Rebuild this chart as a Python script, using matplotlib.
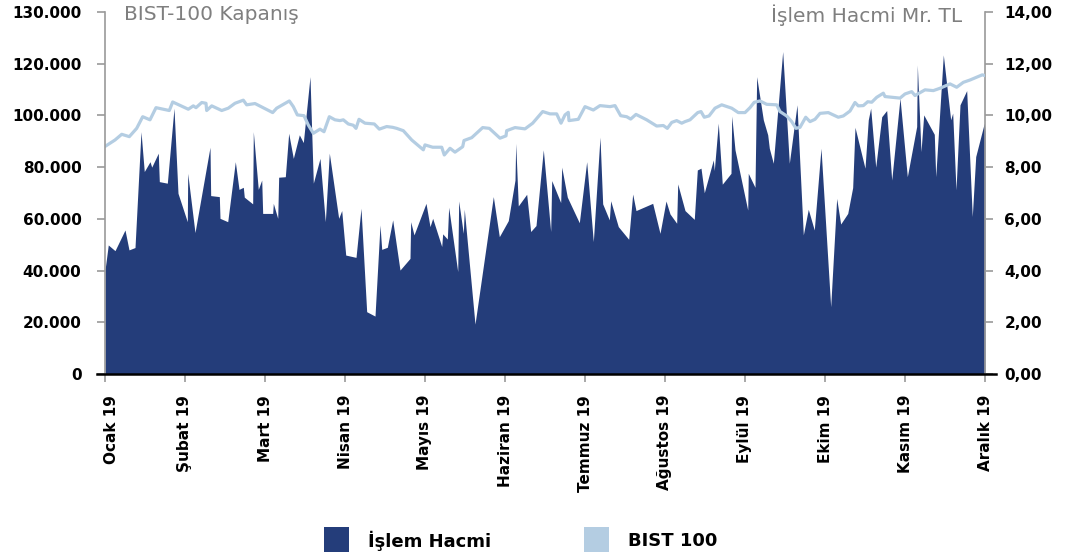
import matplotlib
matplotlib.use("Agg")
import matplotlib.pyplot as plt
from matplotlib.patches import Rectangle
from matplotlib.lines import Line2D
from matplotlib.transforms import ScaledTranslation

# ---- data -------------------------------------------------------------
months = ["Ocak 19", "Şubat 19", "Mart 19", "Nisan 19", "Mayıs 19", "Haziran 19",
          "Temmuz 19", "Ağustos 19", "Eylül 19", "Ekim 19", "Kasım 19", "Aralık 19"]

# time in months since start of January (0 = Ocak, 11 = Aralık)
vol_t = [0.0, 0.041, 0.125, 0.25, 0.30, 0.375, 0.45, 0.491, 0.5625, 0.584, 0.666, 0.679,
         0.779, 0.8625, 0.9125, 1.029, 1.034, 1.125, 1.3125, 1.321, 1.429, 1.4375, 1.534,
         1.629, 1.675, 1.729, 1.741, 1.846, 1.854, 1.916, 1.959, 1.971, 2.096, 2.104, 2.159,
         2.171, 2.254, 2.296, 2.354, 2.429, 2.479, 2.5625, 2.604, 2.6875, 2.754, 2.804, 2.921,
         2.959, 3.009, 3.1375, 3.2, 3.271, 3.375, 3.4375, 3.459, 3.529, 3.596, 3.6875, 3.8125,
         3.821, 3.8625, 4.0125, 4.0625, 4.096, 4.209, 4.221, 4.279, 4.296, 4.409, 4.421, 4.479,
         4.491, 4.625, 4.854, 4.929, 5.041, 5.125, 5.134, 5.166, 5.271, 5.321, 5.3875, 5.479,
         5.571, 5.584, 5.696, 5.709, 5.779, 5.929, 6.021, 6.104, 6.1875, 6.221, 6.304, 6.321,
         6.416, 6.546, 6.596, 6.6375, 6.846, 6.9375, 7.0125, 7.0625, 7.146, 7.159, 7.25, 7.366,
         7.404, 7.45, 7.491, 7.604, 7.616, 7.666, 7.716, 7.825, 7.834, 7.875, 8.034, 8.041,
         8.125, 8.146, 8.229, 8.284, 8.304, 8.354, 8.471, 8.554, 8.65, 8.729, 8.791, 8.866,
         8.95, 9.071, 9.146, 9.196, 9.284, 9.346, 9.375, 9.5, 9.541, 9.571, 9.634, 9.709,
         9.771, 9.834, 9.9375, 10.029, 10.146, 10.154, 10.2, 10.234, 10.366, 10.384, 10.479,
         10.571, 10.596, 10.6375, 10.6875, 10.771, 10.841, 10.884, 10.991, 11.0]
# İşlem Hacmi (milyar TL)
vol = [4.02, 4.99, 4.77, 5.57, 4.80, 4.89, 9.37, 7.83, 8.21, 8.00, 8.54, 7.44,
       7.38, 10.28, 6.99, 5.89, 7.76, 5.47, 8.77, 6.90, 6.86, 6.02, 5.89,
       8.21, 7.14, 7.22, 6.84, 6.58, 9.37, 7.14, 7.50, 6.21, 6.21, 6.60, 6.02,
       7.61, 7.63, 9.31, 8.34, 9.25, 8.95, 11.50, 7.38, 8.34, 5.89, 8.54, 6.02,
       6.32, 4.60, 4.51, 6.41, 2.41, 2.24, 5.76, 4.82, 4.90, 5.96, 4.02, 4.47,
       5.89, 5.38, 6.60, 5.70, 6.02, 4.93, 5.42, 5.22, 6.45, 3.96, 6.69, 5.44,
       6.37, 1.93, 6.86, 5.31, 5.93, 7.50, 8.92, 6.50, 6.95, 5.51, 5.74, 8.67,
       5.51, 7.48, 6.63, 8.00, 6.84, 5.85, 8.21, 5.12, 9.16, 6.58, 5.96, 6.70,
       5.70, 5.21, 6.96, 6.32, 6.60, 5.44, 6.69, 6.19, 5.83, 7.35, 6.32, 5.98,
       7.89, 7.96, 7.01, 8.28, 7.87, 9.70, 7.34, 7.76, 9.98, 8.67, 6.34, 7.76,
       7.22, 11.50, 9.83, 9.25, 8.73, 8.15, 12.47, 8.15, 10.41, 5.38, 6.37, 5.57,
       8.73, 2.60, 6.79, 5.80, 6.21, 7.21, 9.54, 7.96, 9.83, 10.28, 8.00, 9.95,
       10.19, 7.50, 10.67, 7.63, 9.57, 11.95, 8.60, 10.02, 9.27, 7.63, 12.34,
       9.83, 10.09, 7.12, 10.41, 10.96, 6.09, 8.41, 9.70, 9.40]

bist_t = [0.0, 0.125, 0.209, 0.304, 0.396, 0.471, 0.5625, 0.6375, 0.804, 0.846, 1.041,
          1.104, 1.1375, 1.209, 1.2625, 1.271, 1.334, 1.459, 1.541, 1.625, 1.729, 1.771,
          1.875, 2.096, 2.146, 2.304, 2.354, 2.404, 2.4875, 2.541, 2.604, 2.6875, 2.7375,
          2.804, 2.875, 2.9375, 2.979, 3.041, 3.104, 3.1375, 3.175, 3.25, 3.366, 3.429,
          3.521, 3.596, 3.646, 3.729, 3.834, 3.979, 4.0, 4.096, 4.209, 4.241, 4.3125,
          4.375, 4.471, 4.4875, 4.584, 4.721, 4.804, 4.9375, 5.0125, 5.021, 5.125, 5.25,
          5.346, 5.471, 5.5625, 5.646, 5.7, 5.75, 5.791, 5.8, 5.916, 6.0, 6.104, 6.1875,
          6.3125, 6.375, 6.446, 6.521, 6.571, 6.6375, 6.771, 6.896, 6.979, 7.029, 7.084,
          7.146, 7.209, 7.25, 7.3125, 7.409, 7.45, 7.491, 7.55, 7.625, 7.709, 7.834, 7.916,
          8.0, 8.0625, 8.116, 8.1875, 8.271, 8.396, 8.4375, 8.521, 8.584, 8.6375, 8.6875,
          8.759, 8.8125, 8.875, 8.9375, 9.041, 9.166, 9.229, 9.3125, 9.375, 9.416, 9.479,
          9.534, 9.584, 9.646, 9.729, 9.75, 9.9375, 10.0, 10.084, 10.125, 10.25, 10.354,
          10.4375, 10.5625, 10.646, 10.729, 10.8125, 10.896, 10.966, 11.0]
# BIST-100 kapanış
bist = [88000, 90500, 92700, 91800, 95000, 99500, 98300, 103000, 101900, 105200, 102400,
        103700, 103000, 105000, 104700, 101900, 103700, 101900, 102800, 104700, 105900, 104100,
        104600, 101100, 102800, 105600, 103400, 100200, 99900, 96300, 93100, 94700, 93700,
        99500, 98300, 98000, 98300, 96700, 96200, 95000, 98500, 97000, 96700, 94700,
        95700, 95400, 95000, 94100, 90500, 86700, 88600, 87700, 87700, 84700, 87300,
        85800, 87900, 90300, 91400, 95300, 95000, 91200, 92100, 94100, 95300, 94800,
        97000, 101500, 100600, 100600, 97000, 100200, 101200, 98000, 98500, 103400, 102100, 103800,
        103400, 103800, 99900, 99500, 98600, 100400, 98300, 95900, 96100, 95000, 97300,
        98000, 97000, 97600, 98300, 101100, 101500, 99300, 99800, 102800, 104100, 102800, 101100,
        101100, 103000, 105100, 105600, 104300, 104100, 101500, 99800, 97600, 95000, 95400,
        99300, 97600, 98500, 100800, 101100, 99300, 99800, 101700, 105000, 103700, 103800,
        105300, 105100, 107000, 108600, 107300, 106700, 108300, 109200, 107700, 109900, 109600,
        110500, 112200, 110900, 112800, 113700, 114800, 115700, 115400]

left_ticks = [0, 20000, 40000, 60000, 80000, 100000, 120000, 140000]
left_labels = ["0", "20.000", "40.000", "60.000", "80.000", "100.000", "120.000", "130.000"]
right_ticks = [0, 2, 4, 6, 8, 10, 12, 14]
right_labels = ["0,00", "2,00", "4,00", "6,00", "8,00", "10,00", "12,00", "14,00"]
legend_labels = ["İşlem Hacmi", "BIST 100"]

NAVY = "#243d7a"
LIGHT = "#b4cde2"
GRAY = "#9a9a9a"
TITLE_GRAY = "#7f7f7f"

plt.rcParams['font.family'] = ['DejaVu Sans']

W, H = 1068, 560
fig = plt.figure(figsize=(W / 100, H / 100), dpi=100)
ax = fig.add_axes([105 / W, 1 - 374 / H, 880 / W, 362 / H])
ax2 = ax.twinx()

# area on right axis
ax2.fill_between(vol_t, vol, 0, color=NAVY, linewidth=0, antialiased=True)
ax2.set_ylim(0, 14)
ax2.set_yticks(right_ticks)
ax2.set_yticklabels(right_labels)

# BIST line on left axis, drawn above the area
ax.plot(bist_t, bist, color=LIGHT, linewidth=2.3, solid_joinstyle='round')
ax.set_ylim(0, 140000)
ax.set_yticks(left_ticks)
ax.set_yticklabels(left_labels)
ax.set_zorder(ax2.get_zorder() + 1)
ax.patch.set_visible(False)

ax.set_xlim(0, 11)
ax.set_xticks(range(len(months)))
ax.set_xticklabels(months, rotation=90, fontweight='bold', fontsize=11)
ax2.set_xlim(0, 11)

for a in (ax, ax2):
    a.spines['top'].set_visible(False)
    a.spines['bottom'].set_visible(False)
    a.spines['left'].set_color(GRAY)
    a.spines['right'].set_color(GRAY)
    a.spines['left'].set_linewidth(1.2)
    a.spines['right'].set_linewidth(1.2)
    a.tick_params(axis='y', length=6, width=1.2, color=GRAY, labelsize=11)
    a.tick_params(axis='x', length=6, width=1.2, color=GRAY, pad=9)
    for lab in a.get_yticklabels():
        lab.set_fontweight('bold')
ax.tick_params(axis='y', pad=11)
ax2.tick_params(axis='y', pad=8)
ax2.spines['left'].set_visible(False)
ax.spines['right'].set_visible(False)

# black baseline extending slightly beyond the plot on both sides
ax.add_line(Line2D([-8 / 880, 1 + 11 / 880], [0, 0], transform=ax.transAxes,
                   color='black', linewidth=1.8, clip_on=False, zorder=5))

# nudge first x label to the right as in the reference
first = ax.get_xticklabels()[0]
first.set_transform(first.get_transform() + ScaledTranslation(6 / 100, 0, fig.dpi_scale_trans))

fig.text(124 / W, 1 - 15 / H, "BIST-100 Kapanış", color=TITLE_GRAY, fontsize=14.5,
         ha='left', va='center')
fig.text(962 / W, 1 - 15 / H, "İşlem Hacmi Mr. TL", color=TITLE_GRAY, fontsize=14.5,
         ha='right', va='center')

# legend (manual, bottom centre)
for (sx, tx), col, lab in zip([(324, 368), (584, 628)], [NAVY, LIGHT], legend_labels):
    fig.add_artist(Rectangle((sx / W, 1 - 552 / H), 25 / W, 25 / H,
                             transform=fig.transFigure, facecolor=col, edgecolor='none'))
    fig.text(tx / W, 1 - 541 / H, lab, fontsize=13, fontweight='bold',
             ha='left', va='center', color='black')

fig.savefig("out.png", dpi=100)
